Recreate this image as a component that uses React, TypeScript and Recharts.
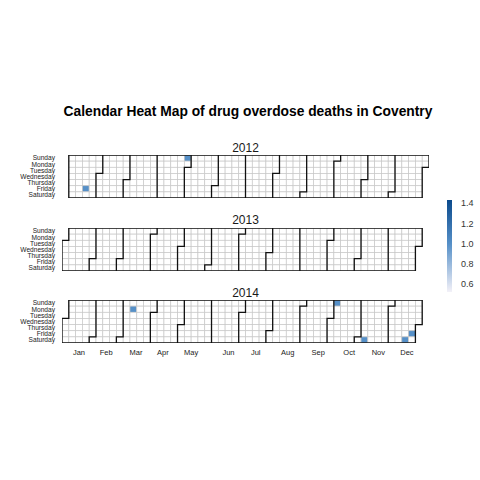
import React from 'react';
import { ScatterChart, Scatter, XAxis, YAxis } from 'recharts';

const YEARS = [2012, 2013, 2014];
const DAY_NAMES = ['Sunday', 'Monday', 'Tuesday', 'Wednesday', 'Thursday', 'Friday', 'Saturday'];
const MONTH_LABELS = ['Jan', 'Feb', 'Mar', 'Apr', 'May', 'Jun', 'Jul', 'Aug', 'Sep', 'Oct', 'Nov', 'Dec'];
const MONTH_TICKS = [2.0, 6.0, 10.4, 14.35, 18.5, 24.0, 28.0, 32.7, 37.2, 41.75, 46.05, 50.25];
const DEATH_DATES = ['2012-01-20', '2012-04-29', '2014-03-10', '2014-10-05', '2014-11-08', '2014-12-20', '2014-12-26'];
const DEATH_COUNTS = [1, 1, 1, 1, 1, 1, 1];
const LEGEND_TICKS = [0.6, 0.8, 1.0, 1.2, 1.4];

const FONT = '"Liberation Sans", Arial, Helvetica, sans-serif';
const PLOT_LEFT = 62;
const PLOT_RIGHT = 429;
const PANEL_H = 43;
const PANEL_TOPS = [155, 227.5, 300];
const N_WEEKS = 54;
const CELL_W = (PLOT_RIGHT - PLOT_LEFT) / N_WEEKS;
const CELL_H = PANEL_H / 7;
const CELL_COLOR = '#5690c8';
const GRID_COLOR = '#c8c8c8';
const LINE_COLOR = '#111111';

const DAY_MS = 86400000;

function weekInfo(year: number, doy: number) {
  const d = new Date(Date.UTC(year, 0, 1) + doy * DAY_MS);
  const wday = d.getUTCDay();
  const week = Math.floor((doy + 7 - wday) / 7);
  return { wday, week, d };
}

function iso(d: Date) {
  return d.toISOString().slice(0, 10);
}

function yearCells(year: number) {
  const values: Record<string, number> = {};
  DEATH_DATES.forEach((s, i) => (values[s] = DEATH_COUNTS[i]));
  const n = Math.round((Date.UTC(year + 1, 0, 1) - Date.UTC(year, 0, 1)) / DAY_MS);
  const cells: { x: number; y: number; v: number | null; date: string }[] = [];
  for (let doy = 0; doy < n; doy++) {
    const { wday, week, d } = weekInfo(year, doy);
    const key = iso(d);
    cells.push({ x: week, y: wday, v: key in values ? values[key] : null, date: key });
  }
  return cells;
}

type Pt = { x: number; y: number };

function yearBoundaries(year: number) {
  const paths: Pt[][] = [];
  const bounds: { wday: number; week: number }[] = [];
  for (let m = 0; m <= 12; m++) {
    const doy = Math.round((Date.UTC(year, m, 1) - Date.UTC(year, 0, 1)) / DAY_MS);
    const { wday, week } = weekInfo(year, doy);
    bounds.push({ wday, week });
    if (wday === 0) {
      paths.push([{ x: week - 0.5, y: -0.5 }, { x: week - 0.5, y: 6.5 }]);
    } else {
      paths.push([
        { x: week + 0.5, y: -0.5 },
        { x: week + 0.5, y: wday - 0.5 },
        { x: week - 0.5, y: wday - 0.5 },
        { x: week - 0.5, y: 6.5 },
      ]);
    }
  }
  const topX = (b: { wday: number; week: number }) => (b.wday === 0 ? b.week - 0.5 : b.week + 0.5);
  const first = bounds[0];
  const last = bounds[12];
  paths.push([{ x: topX(first), y: -0.5 }, { x: topX(last), y: -0.5 }]);
  paths.push([{ x: first.week - 0.5, y: 6.5 }, { x: last.week - 0.5, y: 6.5 }]);
  return paths;
}

const Tile = (props: any) => {
  const { cx, cy, payload } = props;
  if (cx == null || cy == null) return null;
  const filled = payload && payload.v != null;
  return (
    <rect
      x={cx - CELL_W / 2}
      y={cy - CELL_H / 2}
      width={CELL_W}
      height={CELL_H}
      fill={filled ? CELL_COLOR : '#ffffff'}
      stroke={GRID_COLOR}
      strokeWidth={0.7}
    />
  );
};

const NoDot = () => <g />;

const MonthTick = (props: any) => {
  const { x, y, index } = props;
  return (
    <text x={x} y={y} dy="0.71em" textAnchor="middle" fontSize={7.5} fontFamily={FONT} fill="#1a1a1a">
      {MONTH_LABELS[index]}
    </text>
  );
};

const DayTick = (props: any) => {
  const { x, y, payload } = props;
  return (
    <text x={x} y={y} dy="0.355em" textAnchor="end" fontSize={6.6} fontFamily={FONT} fill="#1a1a1a">
      {DAY_NAMES[payload.value]}
    </text>
  );
};

function YearPanel({ year, top, showX }: { year: number; top: number; showX: boolean }) {
  const cells = yearCells(year);
  const paths = yearBoundaries(year);
  const padTop = 10;
  const xAxisH = 20;
  const height = padTop + PANEL_H + (showX ? xAxisH : 10);
  return (
    <div style={{ position: 'absolute', left: 0, top: top - padTop }}>
      <ScatterChart
        width={480}
        height={height}
        margin={{ top: padTop, right: 480 - PLOT_RIGHT, bottom: showX ? 0 : 10, left: 0 }}
      >
        <XAxis
          type="number"
          dataKey="x"
          domain={[-0.5, 53.5]}
          allowDataOverflow
          ticks={MONTH_TICKS}
          interval={0}
          axisLine={false}
          tickLine={false}
          tickSize={5}
          height={xAxisH}
          hide={!showX}
          tick={<MonthTick />}
        />
        <YAxis
          type="number"
          dataKey="y"
          domain={[-0.5, 6.5]}
          allowDataOverflow
          reversed
          ticks={[0, 1, 2, 3, 4, 5, 6]}
          interval={0}
          axisLine={false}
          tickLine={false}
          tickSize={5}
          width={PLOT_LEFT}
          tick={<DayTick />}
        />
        <Scatter data={cells} shape={<Tile />} isAnimationActive={false} />
        {paths.map((p, i) => (
          <Scatter
            key={i}
            data={p}
            shape={<NoDot />}
            line={{ stroke: LINE_COLOR, strokeWidth: 1.3, fill: 'none' }}
            lineType="joint"
            isAnimationActive={false}
          />
        ))}
      </ScatterChart>
    </div>
  );
}

const LEG_X = 447;
const LEG_TOP = 200;
const LEG_BOTTOM = 292;
const LEG_Y06 = 284.2;
const LEG_PX_PER_UNIT = 101;

export default function App() {
  return (
    <div
      style={{
        position: 'absolute',
        left: 0,
        top: 0,
        width: 480,
        height: 480,
        background: '#ffffff',
        fontFamily: FONT,
        overflow: 'hidden',
      }}
    >
      {YEARS.map((y, i) => (
        <YearPanel key={y} year={y} top={PANEL_TOPS[i]} showX={i === YEARS.length - 1} />
      ))}
      <svg
        width={480}
        height={480}
        style={{ position: 'absolute', left: 0, top: 0, pointerEvents: 'none' }}
      >
        <defs>
          <linearGradient id="legGrad" x1="0" y1="0" x2="0" y2="1">
            <stop offset="0%" stopColor="#0b4a8c" />
            <stop offset="48%" stopColor={CELL_COLOR} />
            <stop offset="100%" stopColor="#f3f1f8" />
          </linearGradient>
        </defs>
        <text
          x={248}
          y={115.5}
          textAnchor="middle"
          fontSize={13.8}
          fontWeight="bold"
          fontFamily={FONT}
          fill="#000"
        >
          Calendar Heat Map of drug overdose deaths in Coventry
        </text>
        {YEARS.map((y, i) => (
          <text
            key={y}
            x={(PLOT_LEFT + PLOT_RIGHT) / 2}
            y={PANEL_TOPS[i] - 3.3}
            textAnchor="middle"
            fontSize={12}
            fontFamily={FONT}
            fill="#1a1a1a"
          >
            {String(y)}
          </text>
        ))}
        <rect x={LEG_X} y={LEG_TOP} width={5} height={LEG_BOTTOM - LEG_TOP} fill="url(#legGrad)" />
        {LEGEND_TICKS.map((t) => (
          <text
            key={t}
            x={461}
            y={LEG_Y06 - (t - 0.6) * LEG_PX_PER_UNIT}
            dominantBaseline="central"
            fontSize={9}
            fontFamily={FONT}
            fill="#333"
          >
            {t.toFixed(1)}
          </text>
        ))}
      </svg>
    </div>
  );
}
